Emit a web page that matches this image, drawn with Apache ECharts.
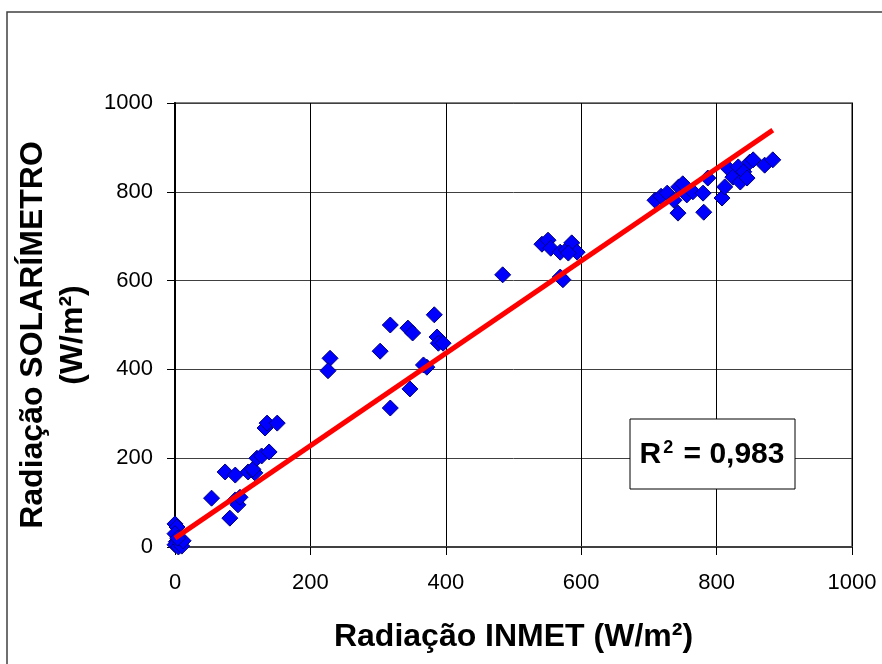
<!DOCTYPE html>
<html lang="pt">
<head>
    <meta charset="UTF-8">
    <title>Radiação INMET x Solarímetro</title>
    <script src="https://cdn.jsdelivr.net/npm/echarts@6/dist/echarts.min.js"></script>
    <style>
        html, body { margin: 0; padding: 0; background: #fff; }
        #main { width: 882px; height: 664px; }
    </style>
</head>
<body>
<div id="main"></div>
<script>
    // valores
    var inmet = [0, 3, 0, 2, 0, 5, 8, 10, 12, 4,
        54, 81, 89, 93, 96, 74, 89, 108, 118, 115, 121, 128, 139, 133, 136, 151,
        229, 226, 303, 318, 318, 347, 344, 351, 383, 372, 367, 387, 389, 396,
        484, 542, 551, 555, 569, 578, 586, 594, 581, 569, 573,
        709, 718, 727, 737, 744, 750, 743, 756, 765, 780, 781, 787, 808, 812, 817, 824, 835, 832, 840, 845, 849, 854, 871, 883];
    var solar = [52, 45, 30, 12, 5, 0, 8, 2, 14, 20,
        110, 65, 106, 95, 112, 169, 162, 169, 167, 175, 200, 205, 214, 268, 279, 279,
        425, 397, 441, 500, 313, 356, 493, 482, 523, 405, 410, 473, 459, 459,
        613, 682, 691, 673, 664, 669, 685, 664, 662, 608, 602,
        781, 790, 797, 781, 811, 818, 752, 793, 800, 797, 754, 831, 786, 811, 853, 833, 822, 856, 845, 831, 867, 872, 860, 872];
    var trendX = [0, 883];
    var trendY = [20, 939];
    var r2 = '0,983';

    var pts = [];
    for (var i = 0; i < inmet.length; i++) {
        pts.push([inmet[i], solar[i]]);
    }
    var trend = [[trendX[0], trendY[0]], [trendX[1], trendY[1]]];

    var font = 'Liberation Sans, Arial, sans-serif';
    var myChart = echarts.init(document.getElementById('main'));
    var option = {
        animation: false,
        backgroundColor: '#fff',
        grid: {
            left: 175, top: 103, right: 30, bottom: 117,
            outerBoundsMode: 'none', containLabel: false,
            show: true, borderColor: '#808080', borderWidth: 2
        },
        xAxis: {
            type: 'value', min: 0, max: 1000, interval: 200,
            name: 'Radiação INMET (W/m²)',
            nameLocation: 'middle', nameGap: 74,
            nameTextStyle: { fontFamily: font, fontWeight: 'bold', fontSize: 32, color: '#000' },
            axisLine: { onZero: false, lineStyle: { color: '#404040', width: 2 } },
            axisTick: { show: true, length: 8, lineStyle: { color: '#000' } },
            axisLabel: { fontFamily: font, fontSize: 22, color: '#000', margin: 25, formatter: function (v) { return String(v); } },
            splitLine: { show: true, lineStyle: { color: '#000', width: 1 } }
        },
        yAxis: {
            type: 'value', min: 0, max: 1000, interval: 200,
            name: 'Radiação SOLARÍMETRO\n(W/m²)',
            nameLocation: 'middle', nameGap: 78,
            nameTextStyle: { fontFamily: font, fontWeight: 'bold', fontSize: 32, color: '#000', lineHeight: 40, padding: [0, 20, 0, 0] },
            axisLine: { onZero: false, lineStyle: { color: '#000', width: 2 } },
            axisTick: { show: true, length: 8, lineStyle: { color: '#000' } },
            axisLabel: { fontFamily: font, fontSize: 22, color: '#000', margin: 22, formatter: function (v) { return String(v); } },
            splitLine: { show: true, lineStyle: { color: '#404040', width: 1 } }
        },
        series: [
            {
                type: 'scatter',
                data: pts,
                symbol: 'diamond',
                symbolSize: 16,
                itemStyle: { color: '#0000ff', borderColor: '#000080', borderWidth: 1, opacity: 1 },
                z: 3
            },
            {
                type: 'line',
                data: trend,
                symbol: 'none',
                lineStyle: { color: '#ff0000', width: 5 },
                z: 4
            }
        ],
        graphic: [
            {
                type: 'rect', z: -1, silent: true,
                shape: { x: 7, y: 12, width: 900, height: 700 },
                style: { fill: 'none', stroke: '#404040', lineWidth: 1.5 }
            },
            {
                type: 'rect', z: 10,
                shape: { x: 630, y: 419, width: 165, height: 70 },
                style: { fill: '#fff', stroke: '#000', lineWidth: 1 }
            },
            {
                type: 'text', z: 11, x: 712, y: 455,
                style: {
                    text: '{b|R}{s|2}{b| = ' + r2 + '}',
                    align: 'center', verticalAlign: 'middle',
                    rich: {
                        b: { fontFamily: font, fontWeight: 'bold', fontSize: 30, color: '#000' },
                        s: { fontFamily: font, fontWeight: 'bold', fontSize: 18, color: '#000', verticalAlign: 'top', padding: [0, 2, 14, 2] }
                    }
                }
            }
        ]
    };
    option && myChart.setOption(option);
</script>
</body>
</html>
